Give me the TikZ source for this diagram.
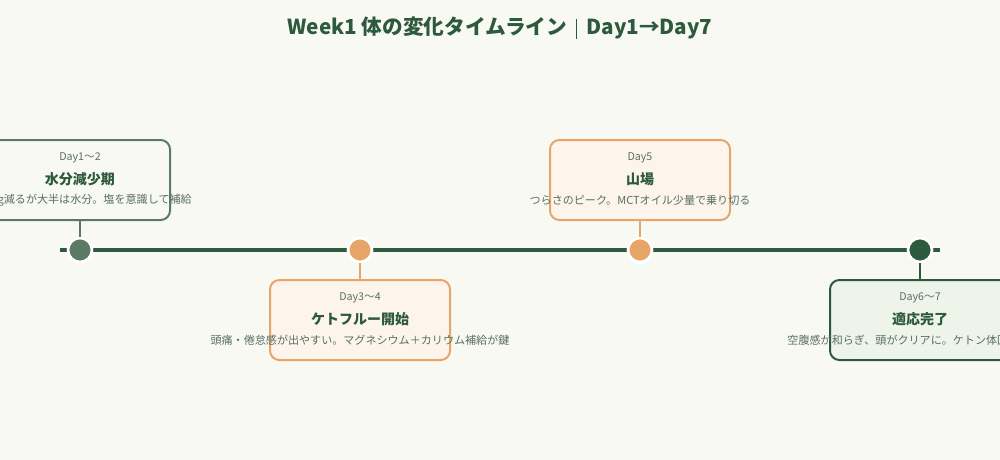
\documentclass[tikz,border=0pt]{standalone}
\usepackage{fontspec}
\setmainfont{Noto Sans CJK JP}
\usetikzlibrary{positioning}
\definecolor{bgcream}{HTML}{F9F9F4}
\definecolor{darkgreen}{HTML}{2D5A3D}
\definecolor{midgreen}{HTML}{5A7A66}
\definecolor{textgrey}{HTML}{5A6E60}
\definecolor{peach}{HTML}{E8A56A}
\definecolor{peachfill}{HTML}{FDF5EC}
\definecolor{mintfill}{HTML}{EEF4EA}
\tikzset{card/.style={draw, rounded corners=7pt, line width=1.5pt, minimum width=135pt, minimum height=60pt}}
\tikzset{cardm/.style={card, draw=midgreen, fill=bgcream}}
\tikzset{cardp/.style={card, draw=peach, fill=peachfill}}
\tikzset{cardd/.style={card, draw=darkgreen, fill=mintfill}}
\tikzset{dot/.style={circle, draw=white, line width=2pt, minimum size=18pt, inner sep=0pt}}
\tikzset{daytxt/.style={font=\fontsize{8}{9}\selectfont, text=textgrey}}
\tikzset{headtxt/.style={font=\fontsize{10.5}{12}\selectfont\bfseries, text=darkgreen}}
\tikzset{desctxt/.style={font=\fontsize{8.3}{9}\selectfont, text=textgrey}}
\tikzset{stem/.style={line width=1.5pt}}
\begin{document}
\begin{tikzpicture}[x=0.75pt, y=-0.75pt]
            \fill [bgcream] (0, 0) rectangle (1000, 460);
            \clip (0, 0) rectangle (1000, 460);
            \useasboundingbox (0, 0) rectangle (1000, 460);

            \node [font=\fontsize{15.5}{19}\selectfont\bfseries, text=darkgreen] (title) at (500, 28)
                { Week1 体の変化タイムライン\hspace{7pt}{\color{darkgreen}\rule[-3pt]{0.6pt}{15pt}}\hspace{7pt}Day1→Day7 };

            \coordinate (Lstart) at (60, 250);
            \coordinate (Lend) at (940, 250);
            \draw [darkgreen, line width=3pt] (Lstart) -- (Lend);

            % day markers
            \node [dot, fill=midgreen] (D1) at (80, 250) {};
            \node [dot, fill=peach] (D3) at (360, 250) {};
            \node [dot, fill=peach] (D5) at (640, 250) {};
            \node [dot, fill=darkgreen] (D6) at (920, 250) {};

            % cards
            \node [cardm] (C1) at (80, 180) {};
            \node [cardp] (C3) at (360, 320) {};
            \node [cardp] (C5) at (640, 180) {};
            \node [cardd] (C6) at (920, 320) {};

            \draw [stem, midgreen] (C1) -- (D1);
            \draw [stem, peach] (C3) -- (D3);
            \draw [stem, peach] (C5) -- (D5);
            \draw [stem, darkgreen] (C6) -- (D6);

            \node [daytxt] (C1a) at (80, 158) { Day1〜2 };
            \node [headtxt] (C1b) at (80, 179) { 水分減少期 };
            \node [desctxt] (C1c) at (80, 200) { 1〜2kg減るが大半は水分。塩を意識して補給 };

            \node [daytxt] (C3a) at (360, 298) { Day3〜4 };
            \node [headtxt] (C3b) at (360, 319) { ケトフルー開始 };
            \node [desctxt] (C3c) at (360, 340) { 頭痛・倦怠感が出やすい。マグネシウム＋カリウム補給が鍵 };

            \node [daytxt] (C5a) at (640, 158) { Day5 };
            \node [headtxt] (C5b) at (640, 179) { 山場 };
            \node [desctxt] (C5c) at (640, 200) { つらさのピーク。MCTオイル少量で乗り切る };

            \node [daytxt] (C6a) at (920, 298) { Day6〜7 };
            \node [headtxt] (C6b) at (920, 319) { 適応完了 };
            \node [desctxt] (C6c) at (920, 340) { 空腹感が和らぎ、頭がクリアに。ケトン体回路が稼働 };
        \end{tikzpicture}
\end{document}
